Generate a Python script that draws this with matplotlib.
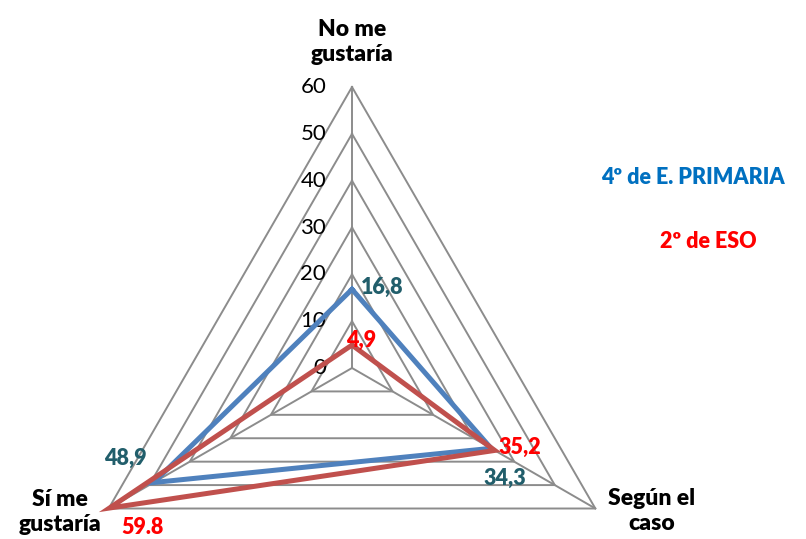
import numpy as np
from matplotlib import pyplot as plt

plt.rcParams['font.family'] = ['Lato', 'DejaVu Sans']

categories = ['No me\ngustaría', 'Según el\ncaso', 'Sí me\ngustaría']
primaria = [16.8, 34.3, 48.9]
eso = [4.9, 35.2, 59.8]
primaria_labels = ['16,8', '34,3', '48,9']
eso_labels = ['4,9', '35,2', '59.8']
ticks = [0, 10, 20, 30, 40, 50, 60]
series_names = ['4º de E. PRIMARIA', '2º de ESO']

# axes go clockwise from the top
angles = np.radians([90, -30, 210])
scale = 281 / 60.0  # px per unit
bold = 'heavy'


def xy(vals):
    vals = np.asarray(vals, dtype=float)
    return vals * np.cos(angles), vals * np.sin(angles)


fig = plt.figure(figsize=(8.06, 5.39), dpi=100)
ax = fig.add_axes([0, 0, 1, 1])
ax.set_xlim(-352 / scale, (806 - 352) / scale)
ax.set_ylim(-(539 - 368) / scale, 368 / scale)
ax.axis('off')

grid_col = '#8c8c8c'
for t in ticks[1:]:
    gx, gy = xy([t, t, t])
    ax.plot(np.append(gx, gx[0]), np.append(gy, gy[0]), color=grid_col, lw=1.4, zorder=1)
for a in angles:
    ax.plot([0, 60 * np.cos(a)], [0, 60 * np.sin(a)], color=grid_col, lw=1.4, zorder=1)

for t in ticks:
    ax.text(-5.5, t, str(t), ha='right', va='center', fontsize=16, color='black')

px, py = xy(primaria)
ex, ey = xy(eso)
ax.plot(np.append(px, px[0]), np.append(py, py[0]), color='#4f81bd', lw=3.6, zorder=3,
        solid_joinstyle='miter')
ax.plot(np.append(ex, ex[0]), np.append(ey, ey[0]), color='#c0504d', lw=3.6, zorder=4,
        solid_joinstyle='miter')

blue_offsets = [(30, 2), (14, -30), (-28, 24)]
red_offsets = [(9, 5), (25, 3), (33, -19)]
for i in range(3):
    ax.annotate(primaria_labels[i], (px[i], py[i]), xytext=blue_offsets[i],
                textcoords='offset pixels', ha='center', va='center',
                fontsize=15.5, fontweight=bold, color='#215e6b', zorder=5)
    ax.annotate(eso_labels[i], (ex[i], ey[i]), xytext=red_offsets[i],
                textcoords='offset pixels', ha='center', va='center',
                fontsize=15.5, fontweight=bold, color='#ff0000', zorder=5)

cat_pos = [(0, (368 - 42) / scale), ((652 - 352) / scale, -(511 - 368) / scale),
           ((60 - 352) / scale, -(512 - 368) / scale)]
for c, (cx, cy) in zip(categories, cat_pos):
    ax.text(cx, cy, c, ha='center', va='center', fontsize=16.5, fontweight=bold,
            linespacing=1.2)

ax.text((693 - 352) / scale, (368 - 177) / scale, series_names[0], ha='center', va='center',
        fontsize=15.5, fontweight=bold, color='#0070c0')
ax.text((708 - 352) / scale, (368 - 242) / scale, series_names[1], ha='center', va='center',
        fontsize=15.5, fontweight=bold, color='#ff0000')

fig.savefig('out.png', dpi=100)
